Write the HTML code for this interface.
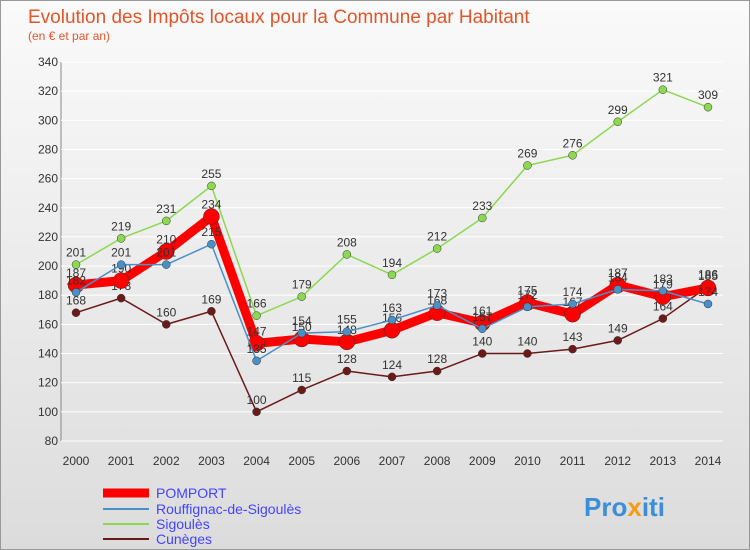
<!DOCTYPE html>
<html><head><meta charset="utf-8"><style>
body{margin:0}
#c{position:relative;width:750px;height:550px;background:linear-gradient(#fafafa,#dcdcdc);border:1px solid #999;box-sizing:border-box;font-family:"Liberation Sans",sans-serif;overflow:hidden}
</style></head><body>
<div id="c">
<svg id="s" width="750" height="550" style="position:absolute;left:0;top:0">
<text x="27" y="22" font-size="19" fill="#e0562a">Evolution des Impôts locaux pour la Commune par Habitant</text>
<text x="27" y="39" font-size="12" fill="#e0562a">(en € et par an)</text>
<g id="grid"></g><g id="series"></g>
<g>
<line x1="102" y1="492" x2="148" y2="492" stroke="#f00" stroke-width="9"/>
<text x="155" y="497" font-size="14" fill="#44f">POMPORT</text>
<line x1="102" y1="508" x2="148" y2="508" stroke="#4a90c8" stroke-width="2"/>
<text x="155" y="513" font-size="14" fill="#44f">Rouffignac-de-Sigoulès</text>
<line x1="102" y1="523" x2="148" y2="523" stroke="#8cd850" stroke-width="2"/>
<text x="155" y="528" font-size="14" fill="#44f">Sigoulès</text>
<line x1="102" y1="538" x2="148" y2="538" stroke="#6b1a1a" stroke-width="2"/>
<text x="155" y="543" font-size="14" fill="#44f">Cunèges</text>
</g>
<text x="583" y="515" font-size="26" font-weight="bold" fill="#3a8fd8">Pro<tspan fill="#f39c12">x</tspan>iti</text>
</svg>
</div>
<script>
const years=[2000,2001,2002,2003,2004,2005,2006,2007,2008,2009,2010,2011,2012,2013,2014];
const yTicks=[80,100,120,140,160,180,200,220,240,260,280,300,320,340];
const sigoules=[201,219,231,255,166,179,208,194,212,233,269,276,299,321,309];
const cuneges=[168,178,160,169,100,115,128,124,128,140,140,143,149,164,186];
const rouffignac=[182,201,201,215,135,154,155,163,173,157,172,174,184,183,174];
const pomport=[187,190,210,234,147,150,148,156,168,161,175,167,187,179,185];
const X0=75,X1=707,Y0=440,Y1=61;
const x=i=>X0+(X1-X0)*i/(years.length-1);
const y=v=>Y0-(v-80)/(340-80)*(Y0-Y1);
const NS="http://www.w3.org/2000/svg";
function mk(t,a,p){const e=document.createElementNS(NS,t);for(const k in a)e.setAttribute(k,a[k]);p.appendChild(e);return e;}
const g=document.getElementById('grid');
const ax=mk('line',{x1:X0-15,y1:Y1,x2:X0-15,y2:Y0,stroke:'#888'},g);


const xa=mk('line',{x1:X0-15,y1:Y0,x2:X1+15,y2:Y0,stroke:'#888'},g);


yTicks.forEach(v=>{
 const l=mk('line',{x1:X0-15,y1:y(v),x2:X1+15,y2:y(v),stroke:'#fff','stroke-width':1},g);
 
 
 const t=mk('text',{x:X0-18,y:y(v)+4,'font-size':12,'text-anchor':'end',fill:'#333'},g);t.textContent=v;
 
 
});
years.forEach((yr,i)=>{
 const t=mk('text',{x:x(i),y:Y0+24,'font-size':12,'text-anchor':'middle',fill:'#333'},g);t.textContent=yr;
 
 
});
const S=document.getElementById('series');
function draw(vals,col,w,r,name){
 const gg=mk('g',{},S);
 
 
 const p=mk('polyline',{points:vals.map((v,i)=>x(i)+','+y(v)).join(' '),fill:'none',stroke:col,'stroke-width':w,'stroke-linejoin':'round'},gg);
 
 
 vals.forEach((v,i)=>{
  const c=mk('circle',{cx:x(i),cy:y(v),r:r,fill:col,stroke:'#333','stroke-width':0.5},gg);
  
  
  const t=mk('text',{x:x(i),y:y(v)-8,'font-size':12,'text-anchor':'middle',fill:'#333'},gg);t.textContent=v;
  
  
 });
}
draw(sigoules,'#8cd850',1.5,4,'sigoules');
draw(cuneges,'#6b1a1a',1.5,4,'cuneges');
draw(pomport,'#f00',9,8,'pomport');
draw(rouffignac,'#4a90c8',1.5,4,'rouffignac');
</script>
</body></html>
